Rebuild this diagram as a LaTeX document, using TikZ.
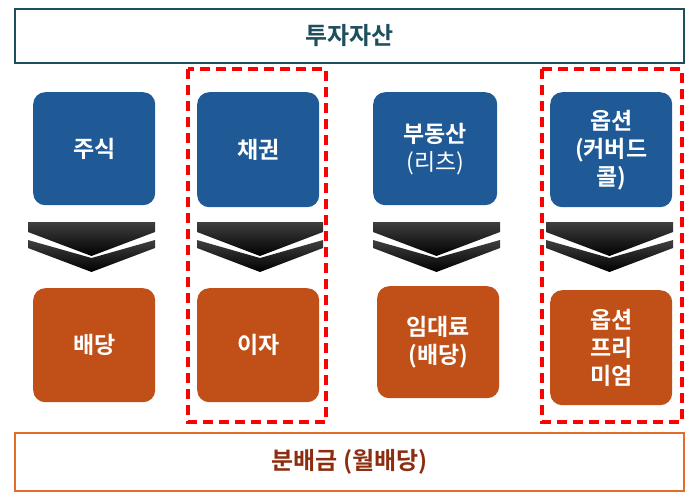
\documentclass[tikz,border=0pt]{standalone}
\usepackage{fontspec}
\setmainfont{Noto Sans CJK KR}[BoldFont={* Bold}]
\begin{document}
\begin{tikzpicture}[x=1pt,y=-1pt,
  blue box/.style={draw=none,fill={rgb,255:red,31;green,90;blue,150},rounded corners=12pt,text=white,font=\fontsize{23}{28}\selectfont\bfseries,align=center,anchor=north west,inner sep=0pt},
  orange box/.style={draw=none,fill={rgb,255:red,192;green,80;blue,24},rounded corners=12pt,text=white,font=\fontsize{23}{28}\selectfont\bfseries,align=center,anchor=north west,inner sep=0pt},
  redframe/.style={draw={rgb,255:red,255;green,0;blue,0},line width=3.5pt,dash pattern=on 10pt off 6pt},
  chev/.style={top color=black!75,bottom color=black,draw=none}]
\useasboundingbox (0,0) rectangle (695,497);
\node[draw={rgb,255:red,31;green,78;blue,95},line width=2pt,minimum width=669pt,minimum height=54pt,anchor=north west,inner sep=0pt,text={rgb,255:red,31;green,78;blue,95},font=\fontsize{24}{28}\selectfont\bfseries] (top) at (14,8) {투자자산};
\node[draw={rgb,255:red,228;green,108;blue,42},line width=2pt,minimum width=669pt,minimum height=58pt,anchor=north west,inner sep=0pt,text={rgb,255:red,140;green,45;blue,15},font=\fontsize{24}{28}\selectfont\bfseries] (bot) at (14,432) {분배금 (월배당)};
\node[blue box,minimum width=122pt,minimum height=113pt] (b1) at (33,92) {주식};
\node[blue box,minimum width=122pt,minimum height=115pt] (b2) at (197,92) {채권};
\node[blue box,minimum width=124pt,minimum height=113pt] (b3) at (373,92) {부동산\\{\mdseries (리츠)}};
\node[blue box,minimum width=122pt,minimum height=115pt] (b4) at (550,92) {옵션\\(커버드\\콜)};
\node[orange box,minimum width=122pt,minimum height=114pt] (o1) at (33,288) {배당};
\node[orange box,minimum width=122pt,minimum height=114pt] (o2) at (197,288) {이자};
\node[orange box,minimum width=122pt,minimum height=112pt] (o3) at (377,286) {임대료\\(배당)};
\node[orange box,minimum width=122pt,minimum height=115pt] (o4) at (550,290) {옵션\\프리\\미엄};
\foreach \xa/\xb/\n in {28/155/1,197/323/2,373/500/3,546/673/4}{
  \pgfmathsetmacro\xc{(\xa+\xb)/2}
  \shade[chev] (\xa,222) -- (\xb,222) -- (\xb,232) -- (\xc,256) -- (\xa,232) -- cycle;
  \shade[chev] (\xa,240) -- (\xc,258) -- (\xb,240) -- (\xb,248) -- (\xc,272) -- (\xa,248) -- cycle;
}
\draw[redframe] (188,69) rectangle (326,422);
\draw[redframe] (542,69) rectangle (682,422);
\end{tikzpicture}
\end{document}
